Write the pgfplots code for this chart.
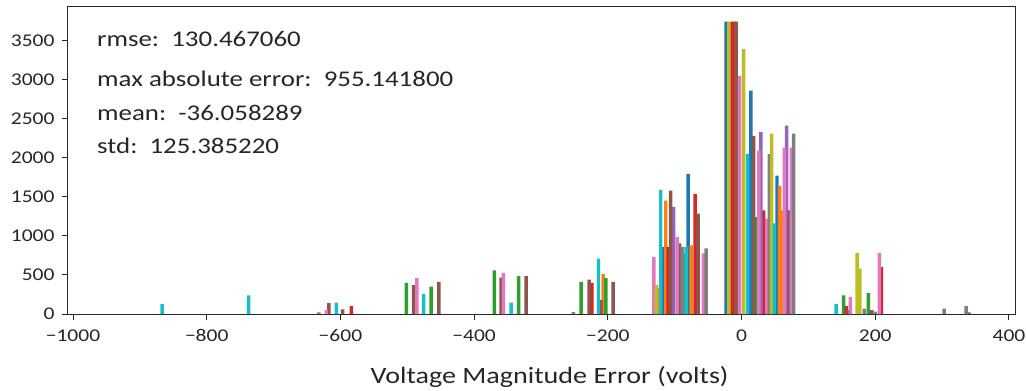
\documentclass[border=0pt]{standalone}
\usepackage{fontspec}
\setmainfont{Carlito}[FakeStretch=1.2]
\usepackage{pgfplots}
\pgfplotsset{compat=1.18}
\definecolor{tabblue}{RGB}{31,119,180}
\definecolor{taborange}{RGB}{255,127,14}
\definecolor{tabgreen}{RGB}{44,160,44}
\definecolor{tabred}{RGB}{214,39,40}
\definecolor{tabpurple}{RGB}{148,103,189}
\definecolor{tabbrown}{RGB}{140,86,75}
\definecolor{tabpink}{RGB}{227,119,194}
\definecolor{tabgray}{RGB}{127,127,127}
\definecolor{tabolive}{RGB}{188,189,34}
\definecolor{tabcyan}{RGB}{23,190,207}
\pgfplotsset{hbar/.style={ybar, bar width=5.2, bar shift=0pt, draw=none, fill=#1}}
\begin{document}
\begin{tikzpicture}
\path[use as bounding box] (-68bp,-77bp) rectangle (958bp,314bp);
\begin{axis}[
  scale only axis, width=947bp, height=307bp,
  xmin=-1007.5, xmax=409, ymin=0, ymax=3930,
  axis line style={line width=1bp, black!85},
  tick align=outside, tick pos=left,
  major tick length=6bp,
  tick style={black!85, line width=1bp},
  xtick={-1000,-800,-600,-400,-200,0,200,400},
  xticklabels={−1000,−800,−600,−400,−200,0,200,400},
  ytick={0,500,...,3500},
  tick label style={font=\fontsize{18}{18}\selectfont, text=black!85},
  xticklabel style={yshift=-6bp},
  yticklabel style={/pgf/number format/1000 sep={}, xshift=-4bp},
  /pgf/number format/assume math mode=true,
  xlabel={Voltage Magnitude Error (volts)},
  xlabel style={font=\fontsize{23.5}{23.5}\selectfont, text=black!85, at={(axis description cs:0.5085,0)}, anchor=base, yshift=-69bp},
]
\addplot[hbar=tabblue] coordinates {(-23,3743) (14,2860) (53,1770) (-117,860) (-80,1795)};
\addplot[hbar=taborange] coordinates {(57,1640) (61,1325) (-124,330) (-113.4,1450) (-75.4,880) (-207,510)};
\addplot[hbar=tabgreen] coordinates {(22,1240) (-501.5,400) (-464.2,350) (-369.7,560) (-333.6,485) (-239.9,410) (-203,460) (-85.1,775) (152.7,240) (189.6,270)};
\addplot[hbar=tabred] coordinates {(-15,3743) (-11,3743) (33,1325) (-583.6,100) (-223.9,400) (-109.7,860) (-69.4,1535) (156.7,100) (209,600)};
\addplot[hbar=tabpurple] coordinates {(29,2330) (67.5,2410) (-101.5,1370)};
\addplot[hbar=tabbrown] coordinates {(-8,3743) (18,2280) (71,1325) (-617.2,140) (-596.6,60) (-490.6,370) (-452.7,410) (-359.7,465) (-322.4,485) (-227.9,440) (-210.4,180) (-192.1,410) (-106,1580) (-92.5,905) (-64.9,1285) (160.4,50) (195,50) (340,20)};
\addplot[hbar=tabpink] coordinates {(-3,3045) (26,2090) (38,1220) (64,2130) (74.5,2130) (-620.9,50) (-485.8,460) (-356.3,525) (-131.3,730) (-96.3,985) (-57.2,775) (162.7,220) (206,780)};
\addplot[hbar=tabgray] coordinates {(41.5,2045) (78,2310) (-632.1,20) (-251.5,25) (-88.8,860) (-53,840) (183.6,70) (200,30) (303,70) (336,100)};
\addplot[hbar=tabolive] coordinates {(-19,3743) (3,3390) (45,2310) (-127.6,370) (172.7,780) (177,580)};
\addplot[hbar=tabcyan] coordinates {(9,2050) (49,1160) (-866.7,125) (-737.3,240) (-606,145) (-475.7,255) (-344.8,145) (-214,710) (-120.9,1590) (-83,860) (141.3,125)};
\end{axis}
\begin{scope}[every node/.style={anchor=base west, inner sep=0pt, text=black!85, font=\fontsize{22.5}{22.5}\selectfont}]
\node at (29bp,267bp) {rmse:\ \ 130.467060};
\node at (29bp,227bp) {max absolute error:\ \ 955.141800};
\node at (29bp,193.5bp) {mean:\ \ -36.058289};
\node at (29bp,160.5bp) {std:\ \ 125.385220};
\end{scope}
\end{tikzpicture}
\end{document}
